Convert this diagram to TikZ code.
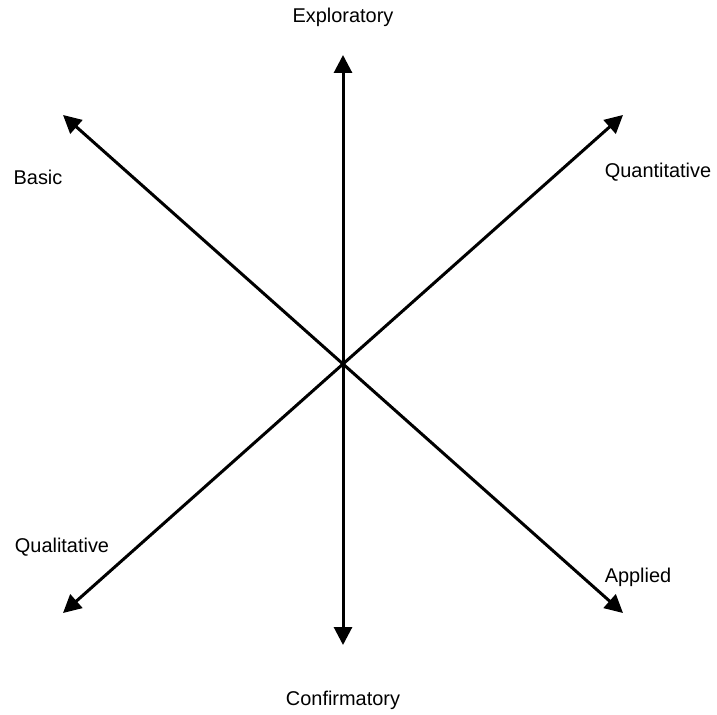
\documentclass[tikz,border=0pt]{standalone}
\usepackage{fontspec}
\setmainfont{Liberation Sans}
\usetikzlibrary{arrows.meta}
\begin{document}
\begin{tikzpicture}[x=1bp,y=-1bp,
  axis/.style={line width=3bp,{Triangle[length=18bp,width=18bp]}-{Triangle[length=18bp,width=18bp]}},
  lbl/.style={font=\fontsize{20}{23}\selectfont, inner sep=0pt}]
\useasboundingbox (0,0) rectangle (717,715);
\coordinate (c) at (343,365);
\coordinate (top) at (343,55);
\coordinate (bot) at (343,645);
\coordinate (tl) at (63,115);
\coordinate (br) at (623,613);
\coordinate (tr) at (623,115);
\coordinate (bl) at (63,613);
\draw[axis] (bot) -- (top);
\draw[axis] (tl) -- (br);
\draw[axis] (bl) -- (tr);
\node[lbl] (expl) at (343,17) {Exploratory};
\node[lbl] (conf) at (343,700) {Confirmatory};
\node[lbl] (basic) at (38,177) {Basic};
\node[lbl] (quant) at (658,172) {Quantitative};
\node[lbl] (qual) at (62,547) {Qualitative};
\node[lbl] (appl) at (638,577) {Applied};
\end{tikzpicture}
\end{document}
